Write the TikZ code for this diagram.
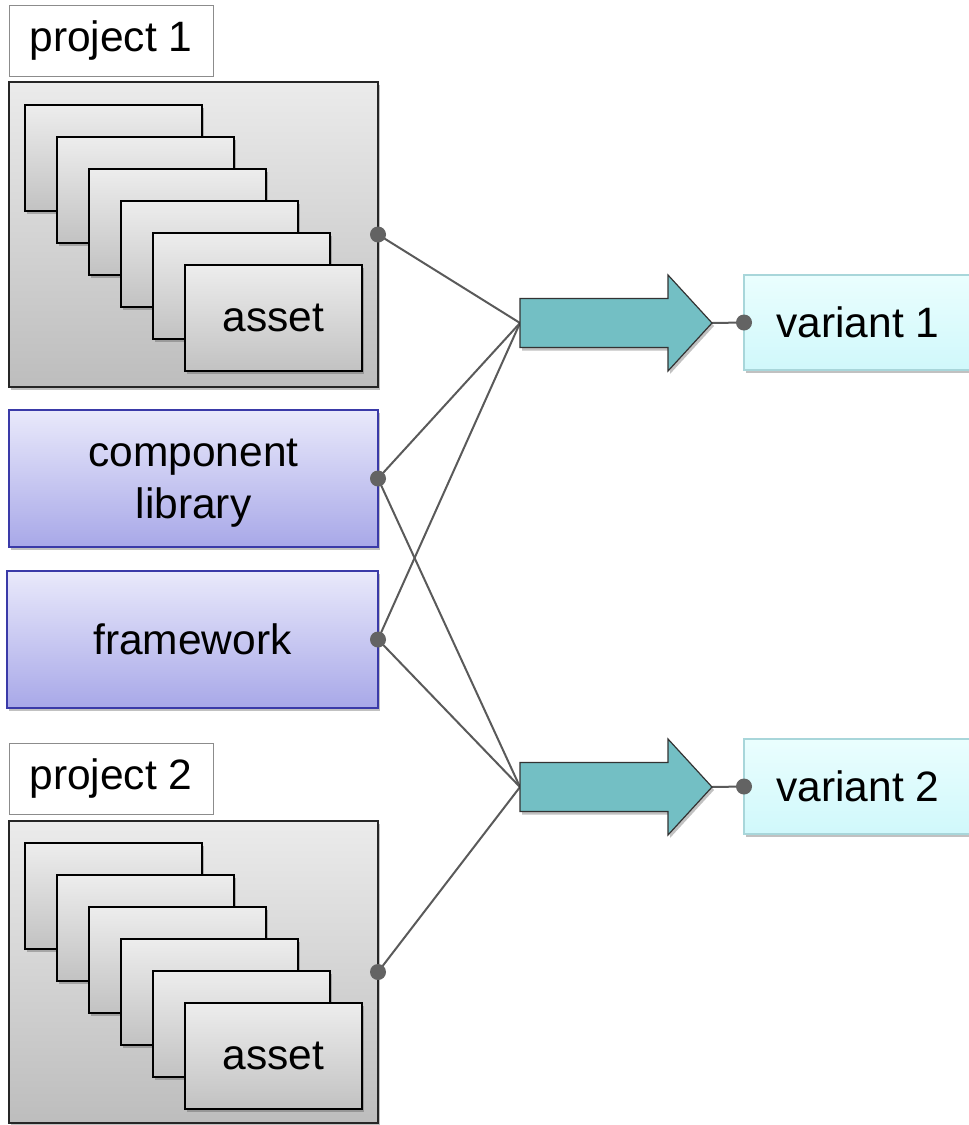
\documentclass[tikz,border=0pt]{standalone}
\usepackage{fontspec}
\setmainfont{Liberation Sans}
\usetikzlibrary{shadows}
\definecolor{boxtop}{HTML}{EBEBEB}
\definecolor{boxbot}{HTML}{BDBDBD}
\definecolor{cardtop}{HTML}{EDEDED}
\definecolor{cardbot}{HTML}{C2C2C2}
\definecolor{libtop}{HTML}{E9E9FB}
\definecolor{libbot}{HTML}{A8A8E8}
\definecolor{libedge}{HTML}{3A3AA8}
\definecolor{teal}{HTML}{73BFC4}
\definecolor{vartop}{HTML}{EAFEFE}
\definecolor{varbot}{HTML}{D0F8FB}
\definecolor{varedge}{HTML}{A8D6DA}
\definecolor{wire}{HTML}{5A5A5A}
\definecolor{dotc}{HTML}{636363}
\tikzset{
  txt/.style={font=\fontsize{42.5}{52}\selectfont, text=black},
  shade3/.style={drop shadow={shadow xshift=2pt, shadow yshift=-3pt, opacity=.35, fill=black!70}},
  labelbox/.style={txt, draw=black!45, line width=1pt, fill=white, inner sep=0pt, outer sep=0pt},
  projbox/.style={draw=black!85, line width=2pt, top color=boxtop, bottom color=boxbot, shade3, inner sep=0pt, outer sep=0pt, minimum width=369pt},
  card/.style={txt, draw=black, line width=2.2pt, top color=cardtop, bottom color=cardbot, shade3, inner sep=0pt, outer sep=0pt, minimum width=177pt, minimum height=106pt},
  libbox/.style={txt, align=center, draw=libedge, line width=1.5pt, top color=libtop, bottom color=libbot, shade3, inner sep=0pt, outer sep=0pt, minimum height=137pt},
  varbox/.style={txt, draw=varedge, line width=1.5pt, top color=vartop, bottom color=varbot, shade3, inner sep=0pt, outer sep=0pt, minimum width=228pt, minimum height=95pt},
  bigarrow/.style={fill=teal, draw=black!80, line width=1.2pt, shade3},
  wirestyle/.style={draw=wire, line width=2pt},
  dot/.style={fill=dotc}
}
\begin{document}
\begin{tikzpicture}[x=1pt, y=-1pt]
\useasboundingbox (0,0) rectangle (969,1125);

% project boxes with their stacks of assets
\node[labelbox, minimum width=204pt, minimum height=71pt] (p1lab) at (111,40.5) {project 1};
\node[projbox, minimum height=305pt] (p1) at (193.5,234.5) {};
\foreach \k in {0,...,4}
  \node[card] (p1c\k) at (113.5+32*\k, 158+32*\k) {};
\node[card] (p1asset) at (273.5,318) {asset};

\node[labelbox, minimum width=204pt, minimum height=71pt] (p2lab) at (111,778.5) {project 2};
\node[projbox, minimum height=302pt] (p2) at (193.5,972) {};
\foreach \k in {0,...,4}
  \node[card] (p2c\k) at (113.5+32*\k, 896+32*\k) {};
\node[card] (p2asset) at (273.5,1056) {asset};

% shared libraries
\node[libbox, minimum width=369pt] (lib) at (193.5,478.5) {};
\node[txt, align=center] (libtxt) at (193.5,483) {component\\library};
\node[libbox, minimum width=371pt] (fw) at (192.5,639.5) {framework};

% variants
\node[varbox] (v1) at (858,322.5) {variant 1};
\node[varbox] (v2) at (858,786.5) {variant 2};

% build arrow end points
\coordinate (a1in) at (520,323);
\coordinate (a1tip) at (712,323);
\coordinate (a2in) at (520,787);
\coordinate (a2tip) at (712,787);

% wires into the build arrows
\draw[wirestyle] (p1.east) -- (a1in);
\draw[wirestyle] (lib.east) -- (a1in);
\draw[wirestyle] (fw.east) -- (a1in);
\draw[wirestyle] (lib.east) -- (a2in);
\draw[wirestyle] (fw.east) -- (a2in);
\draw[wirestyle] (p2.east) -- (a2in);
\draw[wirestyle] (a1tip) -- (v1.west);
\draw[wirestyle] (a2tip) -- (v2.west);

% build arrows
\path[bigarrow] (a1in) -- ++(0,-24.5) -- ++(148,0) -- ++(0,-23.5) -- (a1tip)
  -- ++(-44,48) -- ++(0,-23.5) -- ++(-148,0) -- cycle;
\path[bigarrow] (a2in) -- ++(0,-24.5) -- ++(148,0) -- ++(0,-23.5) -- (a2tip)
  -- ++(-44,48) -- ++(0,-23.5) -- ++(-148,0) -- cycle;

% connection dots
\foreach \n in {p1.east, lib.east, fw.east, p2.east, v1.west, v2.west}
  \fill[dot] (\n) circle (8pt);
\end{tikzpicture}
\end{document}
